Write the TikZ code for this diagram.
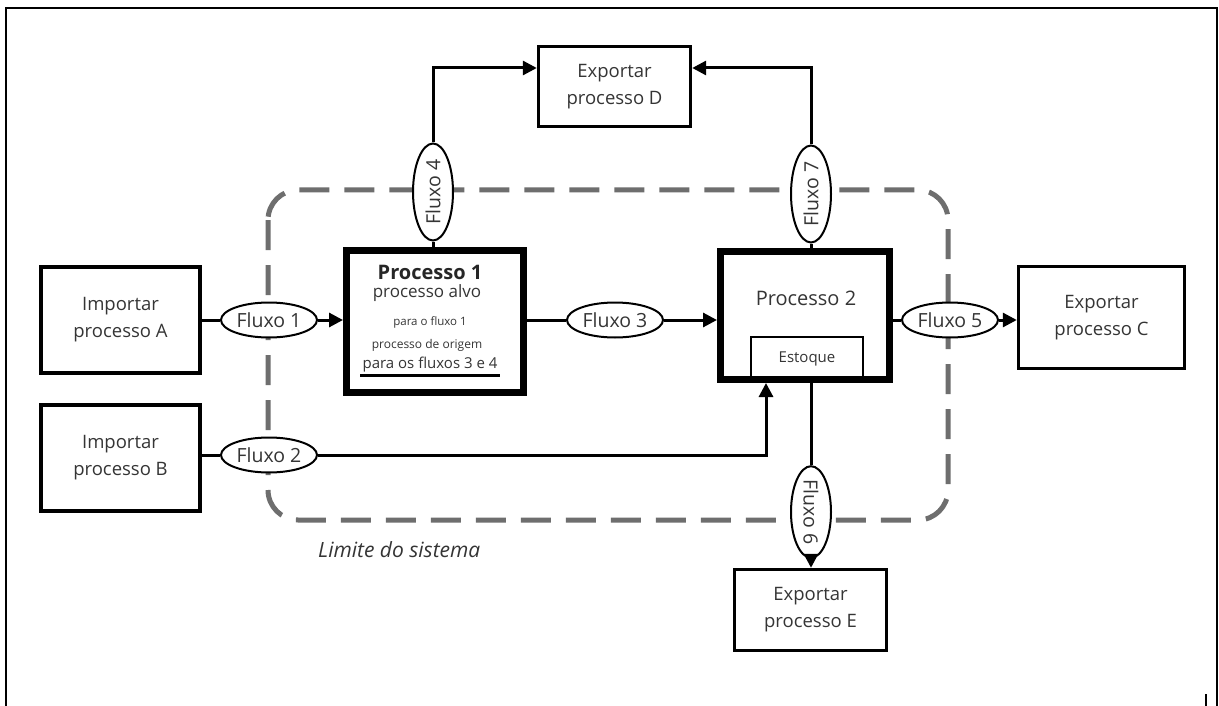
\documentclass[tikz,border=0pt]{standalone}
\usepackage{fontspec}
\setmainfont{Open Sans}
\usetikzlibrary{shapes.geometric,arrows.meta}
\definecolor{txt}{HTML}{353535}
\definecolor{bound}{HTML}{6E6E6E}
\begin{document}
\begin{tikzpicture}[x=1pt,y=-1pt,
  box/.style={draw, line width=3.4pt, inner sep=0pt, text=txt, align=center,
    font=\fontsize{18.5}{27}\selectfont},
  procbox/.style={draw, line width=7pt, inner sep=0pt},
  label/.style={inner sep=0pt, text=txt},
  flow/.style={draw, ellipse, line width=2pt, minimum width=96pt, minimum height=35pt,
    inner sep=0pt, fill=white, text=txt, font=\fontsize{19.5}{19.5}\selectfont},
  vflow/.style={flow, minimum width=97pt, minimum height=40pt},
  link/.style={line width=3pt},
  arr/.style={link, -{Triangle[length=14pt,width=14pt]}},
]
\useasboundingbox (0,0) rectangle (1219,706);
\fill[white] (0,0) rectangle (1219,706);

% page frame
\draw[line width=2pt] (6,706) -- (6,8) -- (1217,8) -- (1217,706);
\draw[line width=1.5pt] (1206,694) -- (1206,706);

% system boundary
\draw[bound, line width=5pt, dash pattern=on 30pt off 15pt, rounded corners=30pt]
  (268,190) rectangle (948,520);
\node[label, anchor=base west, font=\itshape\fontsize{21}{21}\selectfont] (lim)
  at (318,557) {Limite do sistema};

% import / export processes
\node[box, minimum width=159pt, minimum height=106pt] (impA) at (120.5,320) {Importar\\processo A};
\node[box, minimum width=159pt, minimum height=106pt] (impB) at (120.5,458) {Importar\\processo B};
\node[box, minimum width=152pt, minimum height=80pt] (expD) at (614.5,86.5) {Exportar\\processo D};
\node[box, minimum width=166pt, minimum height=102pt] (expC) at (1101.5,317.5) {Exportar\\processo C};
\node[box, minimum width=152pt, minimum height=81pt] (expE) at (810.5,610) {Exportar\\processo E};

% process 1
\node[procbox, minimum width=177pt, minimum height=142pt] (p1) at (435,321.5) {};
\node[label, font=\bfseries\fontsize{20}{20}\selectfont, text=black!85] (p1t) at (430,272) {Processo 1};
\node[label, font=\fontsize{17}{17}\selectfont] (p1a) at (427,293) {processo alvo};
\node[label, font=\fontsize{11.5}{12}\selectfont] (p1b) at (430,322) {para o fluxo 1};
\node[label, font=\fontsize{12}{12}\selectfont] (p1c) at (427,345) {processo de origem};
\node[label, font=\fontsize{15}{15}\selectfont] (p1d) at (430,365) {para os fluxos 3 e 4};
\draw[line width=3pt] (p1d.south west |- 0,375) ++(-2,0) -- ([xshift=2pt]p1d.south east |- 0,375);

% process 2 with stock
\node[procbox, minimum width=169pt, minimum height=128pt] (p2) at (805,315.5) {};
\node[label, font=\fontsize{20}{20}\selectfont] (p2t) at (806,298) {Processo 2};
\node[draw, line width=2.5pt, minimum width=112pt, minimum height=44pt, inner sep=0pt,
  text=txt, font=\fontsize{15}{15}\selectfont] (stock) at (807,359) {Estoque};

% flows
\node[flow] (f1) at (269,320) {Fluxo 1};
\node[flow] (f2) at (269,455) {Fluxo 2};
\node[flow] (f3) at (615,320) {Fluxo 3};
\node[flow] (f5) at (950,320) {Fluxo 5};
\node[vflow, rotate=90] (f4) at (433,192) {Fluxo 4};
\node[vflow, rotate=90] (f7) at (811,194) {Fluxo 7};
\node[vflow, rotate=-90, minimum width=84pt] (f6) at (811,512) {Fluxo 6};

% connectors
\coordinate (p2in) at (766,455);
\draw[link] (impA.east |- f1.west) -- (f1.west);
\draw[arr] (f1.east) -- (f1.east -| p1.west);
\draw[link] (impB.east |- f2.west) -- (f2.west);
\draw[arr] (f2.east) -| (p2in |- p2.south);
\draw[link] (p1.east |- f3.west) -- (f3.west);
\draw[arr] (f3.east) -- (f3.east -| p2.west);
\draw[link] (p2.east |- f5.west) -- (f5.west);
\draw[arr] (f5.east) -- (f5.east -| expC.west);
\draw[link] (p1.north -| f4) -- (f4);
\draw[arr] (f4) |- ([yshift=18.5pt]expD.west);
\draw[link] (p2.north -| f7) -- (f7);
\draw[arr] (f7) |- ([yshift=18.5pt]expD.east);
\draw[link] (p2.south -| f6) -- (f6);
\draw[arr] (f6) -- (expE.north -| f6);
\end{tikzpicture}
\end{document}
